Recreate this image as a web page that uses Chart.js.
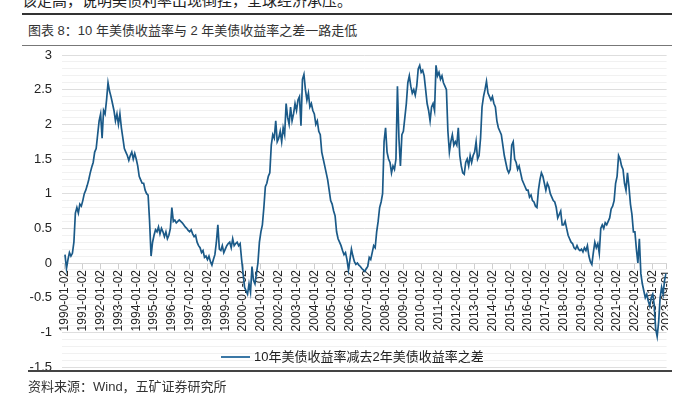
<!DOCTYPE html>
<html>
<head>
<meta charset="utf-8">
<script src="https://cdn.jsdelivr.net/npm/chart.js@4/dist/chart.umd.min.js"></script>
<style>
  body { margin: 0; width: 679px; height: 394px; position: relative; overflow: hidden; background: #fff;
         font-family: "Liberation Sans", "Noto Sans CJK SC", sans-serif; color: #222; }
  .abs { position: absolute; white-space: nowrap; }
  #lead { left: 22px; top: -11px; font-size: 15px; color: #222; }
  #rule1 { left: 22px; top: 13px; width: 650px; height: 2px; background: #333; }
  #title { left: 28px; top: 20px; font-size: 13px; color: #333; }
  #rule2 { left: 22px; top: 45px; width: 650px; height: 1px; background: #777; }
  #rule3 { left: 28px; top: 370px; width: 644px; height: 2px; background: #444; }
  #source { left: 28px; top: 376px; font-size: 13px; color: #333; }
  #legend { left: 221px; top: 346px; font-size: 13px; color: #222; }
  #legend i { display: inline-block; width: 29px; height: 0; border-top: 2px solid #3b78a6; vertical-align: middle; margin-right: 4px; position: relative; top: -1px; }
  #wrap { position: absolute; left: 0; top: 0; width: 668px; height: 394px; overflow: hidden; }
  canvas { position: absolute; left: 0; top: 0; }
</style>
</head>
<body>
<div class="abs" id="lead">该走高，说明美债利率出现倒挂，全球经济承压。</div>
<div class="abs" id="rule1"></div>
<div class="abs" id="title">图表 8：10 年美债收益率与 2 年美债收益率之差一路走低</div>
<div class="abs" id="rule2"></div>
<div id="wrap"><canvas id="c" width="683" height="394" style="width:683px;height:394px"></canvas></div>
<div class="abs" id="legend"><i></i>10年美债收益率减去2年美债收益率之差</div>
<div class="abs" id="rule3"></div>
<div class="abs" id="source">资料来源：Wind，五矿证券研究所</div>
<script>
const seriesName = '10年美债收益率减去2年美债收益率之差';
const startYear = 1990;
// monthly readings, one row per year, Jan..Dec
const spread = [
  0.12, -0.08, 0.05, 0.15, 0.10, 0.14, 0.30, 0.72, 0.80, 0.72, 0.85, 0.82,   // 1990
  0.90, 1.00, 1.05, 1.12, 1.20, 1.30, 1.38, 1.45, 1.60, 1.65, 1.85, 2.05,    // 1991
  2.15, 1.80, 2.20, 2.15, 2.35, 2.60, 2.48, 2.40, 2.30, 2.20, 2.05, 2.15,    // 1992
  2.00, 2.15, 1.95, 1.80, 1.65, 1.60, 1.55, 1.48, 1.55, 1.60, 1.50, 1.58,    // 1993
  1.50, 1.40, 1.25, 1.20, 1.15, 1.15, 1.05, 1.00, 0.98, 0.60, 0.10, 0.30,    // 1994
  0.40, 0.48, 0.45, 0.52, 0.42, 0.50, 0.45, 0.38, 0.45, 0.35, 0.40, 0.50,    // 1995
  0.80, 0.60, 0.62, 0.58, 0.60, 0.62, 0.60, 0.58, 0.55, 0.52, 0.50, 0.47,    // 1996
  0.45, 0.48, 0.42, 0.38, 0.40, 0.30, 0.25, 0.22, 0.15, 0.18, 0.08, 0.10,    // 1997
  0.05, 0.10, 0.02, -0.03, 0.05, 0.12, 0.30, 0.55, 0.20, 0.18, 0.25, 0.15,   // 1998
  0.20, 0.25, 0.28, 0.30, 0.22, 0.35, 0.25, 0.28, 0.30, 0.25, 0.28, 0.05,    // 1999
  -0.15, -0.35, -0.40, -0.45, -0.30, -0.42, -0.05, -0.25, -0.30, -0.15, 0.00, 0.30, // 2000
  0.45, 0.55, 0.80, 1.10, 1.15, 1.25, 1.30, 1.70, 1.85, 1.80, 2.05, 1.75,    // 2001
  1.80, 1.90, 1.75, 1.95, 1.85, 2.30, 2.10, 2.00, 2.25, 2.05, 2.15, 2.30,    // 2002
  2.20, 2.35, 2.40, 1.98, 2.65, 2.72, 2.50, 2.35, 2.45, 2.25, 2.30, 2.20,    // 2003
  2.15, 2.00, 2.05, 1.90, 1.85, 1.60, 1.50, 1.40, 1.30, 1.20, 1.05, 0.90,    // 2004
  0.85, 0.75, 0.68, 0.45, 0.35, 0.30, 0.25, 0.18, 0.12, 0.15, 0.05, -0.10,   // 2005
  0.05, 0.20, 0.10, 0.02, -0.02, 0.00, -0.03, -0.05, -0.08, -0.10, -0.12, -0.08, // 2006
  -0.05, 0.08, 0.05, 0.15, 0.25, 0.22, 0.45, 0.60, 0.80, 0.88, 1.00, 1.75,   // 2007
  1.95, 1.60, 1.50, 1.45, 1.30, 1.40, 1.35, 1.50, 2.55, 1.80, 1.40, 1.85,    // 2008
  1.90, 2.10, 2.30, 2.60, 2.70, 2.55, 2.45, 2.50, 2.42, 2.55, 2.80, 2.85,    // 2009
  2.75, 2.78, 2.70, 2.50, 2.30, 2.20, 2.05, 2.25, 2.30, 2.20, 2.85, 2.70,    // 2010
  2.75, 2.65, 2.70, 2.60, 2.55, 2.50, 1.90, 1.60, 1.75, 1.85, 1.70, 1.75,    // 2011
  1.70, 1.95, 1.55, 1.40, 1.30, 1.28, 1.45, 1.50, 1.40, 1.55, 1.45, 1.55,    // 2012
  1.60, 1.75, 1.50, 1.55, 1.80, 2.25, 2.40, 2.50, 2.62, 2.45, 2.40, 2.35,    // 2013
  2.40, 2.30, 2.25, 2.05, 1.95, 1.90, 1.85, 1.70, 1.55, 1.45, 1.35, 1.30,    // 2014
  1.35, 1.70, 1.75, 1.50, 1.45, 1.35, 1.40, 1.30, 1.20, 1.15, 1.10, 1.05,    // 2015
  1.05, 0.95, 0.98, 0.90, 0.88, 0.82, 0.80, 1.05, 1.20, 1.30, 1.25, 1.15,    // 2016
  1.05, 1.15, 1.10, 1.00, 0.95, 0.90, 0.88, 0.80, 0.65, 0.70, 0.75, 0.55,    // 2017
  0.55, 0.60, 0.50, 0.40, 0.35, 0.30, 0.28, 0.22, 0.20, 0.25, 0.20, 0.18,    // 2018
  0.20, 0.16, 0.22, 0.18, 0.25, 0.10, 0.02, -0.02, 0.15, 0.30, 0.22, 0.28,   // 2019
  0.14, 0.50, 0.55, 0.50, 0.58, 0.55, 0.60, 0.65, 0.78, 0.82, 0.90, 1.15,    // 2020
  1.25, 1.55, 1.50, 1.40, 1.35, 1.15, 1.05, 1.30, 1.10, 0.85, 0.70, 0.45,    // 2021
  0.45, 0.20, 0.00, 0.35, -0.15, -0.30, -0.40, -0.50, -0.45, -0.55, -0.62, -0.50, // 2022
  -0.45, -0.60, -0.95, -1.06, -0.85, -0.50, -0.35, -0.45, -0.25, -0.15        // 2023
];
const tickYears = [1990, 1991, 1992, 1993, 1994, 1995, 1996, 1997, 1998, 1999, 2000, 2001,
  2002, 2003, 2004, 2005, 2006, 2007, 2008, 2009, 2010, 2011, 2012, 2013, 2014, 2015,
  2016, 2017, 2018, 2019, 2020, 2021, 2022, 2023, 2023.78];
const tickLabels = tickYears.map(y => Number.isInteger(y) ? y + '-01-02' : '2023-09-01');
const yTickLabels = ['-1.5', '-1', '-0.5', '0', '0.5', '1', '1.5', '2', '2.5', '3'];

const points = spread.map((v, i) => ({ x: startYear + i / 12, y: v }));
const isMajor = v => Math.abs(v * 2 - Math.round(v * 2)) < 1e-6;

new Chart(document.getElementById('c'), {
  type: 'line',
  data: {
    datasets: [{
      label: seriesName,
      data: points,
      borderColor: '#1b5a88',
      borderWidth: 1.7,
      pointRadius: 0,
      tension: 0
    }]
  },
  options: {
    responsive: false,
    animation: false,
    layout: { padding: { top: 55, bottom: 27, left: 0, right: 1 } },
    plugins: { legend: { display: false }, tooltip: { enabled: false } },
    scales: {
      x: {
        type: 'linear',
        position: { y: 0 },
        min: 1989.832,
        max: 2023.78,
        afterBuildTicks: s => { s.ticks = tickYears.map(v => ({ value: v })); },
        ticks: {
          autoSkip: false,
          minRotation: 90,
          maxRotation: 90,
          padding: 2,
          color: '#222',
          font: { family: 'Liberation Sans', size: 12 },
          callback: (v, i) => tickLabels[i]
        },
        grid: { drawOnChartArea: false, color: '#cfcfcf', tickLength: 5 },
        border: { color: '#d6d6d6' }
      },
      y: {
        min: -1.5,
        max: 3,
        afterFit: s => { s.width = 62; },
        ticks: {
          stepSize: 0.1,
          maxTicksLimit: 100,
          autoSkip: false,
          padding: 10,
          color: '#222',
          font: { family: 'Liberation Sans', size: 13 },
          callback: v => isMajor(v) ? yTickLabels[Math.round((v + 1.5) * 2)] : ''
        },
        grid: {
          drawTicks: false,
          color: c => isMajor(c.tick.value) ? '#dedede' : '#f1f1f1'
        },
        border: { display: false }
      }
    }
  }
});
</script>
</body>
</html>
